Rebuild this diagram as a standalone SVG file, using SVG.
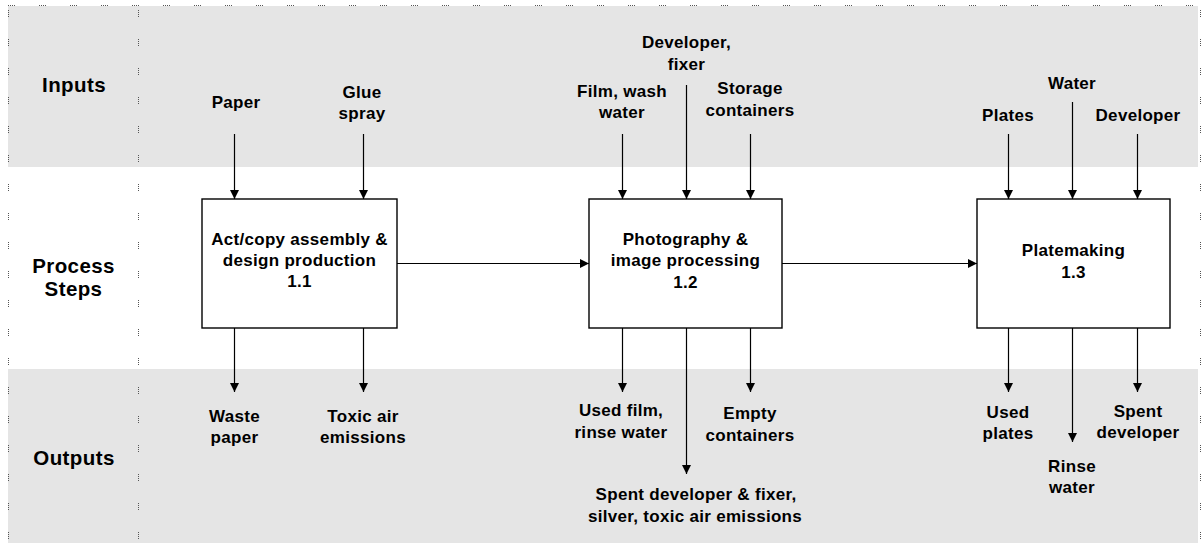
<svg xmlns="http://www.w3.org/2000/svg" width="1203" height="543" viewBox="0 0 1203 543">
<style>
.band{fill:#e5e5e5}
.dot{stroke:#555;stroke-width:1;fill:none;stroke-dasharray:1,1,1,1,1,1,1,22}
.doth{stroke:#555;stroke-width:1;fill:none;stroke-dasharray:1,1,1,1,1,1,1,24}
.box{fill:#fff;stroke:#000;stroke-width:1.4}
.ln{stroke:#000;stroke-width:1.2;fill:none;marker-end:url(#ah)}
text{font-family:"Liberation Sans",Arial,sans-serif;font-weight:bold;font-size:17px;letter-spacing:0.3px;fill:#000;text-anchor:middle}
.lane{font-size:20.5px;font-weight:bold;letter-spacing:0.4px}
</style>
<defs>
<marker id="ah" markerUnits="userSpaceOnUse" markerWidth="9" markerHeight="9" refX="9" refY="4.5" orient="auto">
<path d="M0,0 L9,4.5 L0,9 z" fill="#000"/>
</marker>
</defs>
<g id="background">
<rect class="band" x="8" y="6" width="1190" height="161"/>
<rect class="band" x="8" y="369" width="1190" height="174"/>
<line class="doth" x1="8" y1="5.5" x2="1198" y2="5.5"/>
<line class="dot" x1="8.5" y1="10" x2="8.5" y2="543"/>
<line class="dot" x1="138.5" y1="10" x2="138.5" y2="543"/>
<line class="dot" x1="1200.5" y1="10" x2="1200.5" y2="543"/>
</g>
<g id="lanes">
<text class="lane" x="74" y="92">Inputs</text>
<text class="lane" x="73.5" y="273">Process</text>
<text class="lane" x="73.5" y="296">Steps</text>
<text class="lane" x="74" y="465">Outputs</text>
</g>
<g id="connectors">
<line class="ln" x1="234.5" y1="134" x2="234.5" y2="199"/>
<line class="ln" x1="363.5" y1="134" x2="363.5" y2="199"/>
<line class="ln" x1="622.5" y1="134" x2="622.5" y2="199"/>
<line class="ln" x1="686.5" y1="85" x2="686.5" y2="199"/>
<line class="ln" x1="750.5" y1="134" x2="750.5" y2="199"/>
<line class="ln" x1="1008.5" y1="134" x2="1008.5" y2="199"/>
<line class="ln" x1="1072.5" y1="102" x2="1072.5" y2="199"/>
<line class="ln" x1="1137.5" y1="134" x2="1137.5" y2="199"/>
<line class="ln" x1="397" y1="263.5" x2="589" y2="263.5"/>
<line class="ln" x1="782" y1="263.5" x2="977" y2="263.5"/>
<line class="ln" x1="234.5" y1="328" x2="234.5" y2="392"/>
<line class="ln" x1="363.5" y1="328" x2="363.5" y2="392"/>
<line class="ln" x1="622.5" y1="328" x2="622.5" y2="392"/>
<line class="ln" x1="686.5" y1="328" x2="686.5" y2="474"/>
<line class="ln" x1="750.5" y1="328" x2="750.5" y2="392"/>
<line class="ln" x1="1008.5" y1="328" x2="1008.5" y2="392"/>
<line class="ln" x1="1072.5" y1="328" x2="1072.5" y2="442"/>
<line class="ln" x1="1137.5" y1="328" x2="1137.5" y2="392"/>
</g>
<g id="node-1-1">
<rect class="box" x="202" y="199" width="195" height="129"/>
<text x="299.5" y="245">Act/copy assembly &amp;</text>
<text x="299.5" y="266">design production</text>
<text x="299.5" y="287">1.1</text>
</g>
<g id="node-1-2">
<rect class="box" x="589" y="199" width="193" height="129"/>
<text x="685.5" y="245">Photography &amp;</text>
<text x="685.5" y="266">image processing</text>
<text x="685.5" y="288">1.2</text>
</g>
<g id="node-1-3">
<rect class="box" x="977" y="199" width="193" height="129"/>
<text x="1073.5" y="256">Platemaking</text>
<text x="1073.5" y="278">1.3</text>
</g>
<g id="inputs">
<text x="236" y="108">Paper</text>
<text x="362" y="98">Glue</text>
<text x="362" y="119">spray</text>
<text x="622" y="97">Film, wash</text>
<text x="622" y="118">water</text>
<text x="686.5" y="48">Developer,</text>
<text x="686.5" y="70">fixer</text>
<text x="750" y="94">Storage</text>
<text x="750" y="116">containers</text>
<text x="1008" y="121">Plates</text>
<text x="1072" y="89">Water</text>
<text x="1138" y="121">Developer</text>
</g>
<g id="outputs">
<text x="234.5" y="422">Waste</text>
<text x="234.5" y="443">paper</text>
<text x="363" y="422">Toxic air</text>
<text x="363" y="443">emissions</text>
<text x="621" y="416">Used film,</text>
<text x="621" y="438">rinse water</text>
<text x="750" y="419">Empty</text>
<text x="750" y="441">containers</text>
<text x="696" y="500">Spent developer &amp; fixer,</text>
<text x="695" y="522">silver, toxic air emissions</text>
<text x="1008" y="418">Used</text>
<text x="1008" y="439">plates</text>
<text x="1072" y="472">Rinse</text>
<text x="1072" y="493">water</text>
<text x="1138" y="417">Spent</text>
<text x="1138" y="438">developer</text>
</g>
</svg>
